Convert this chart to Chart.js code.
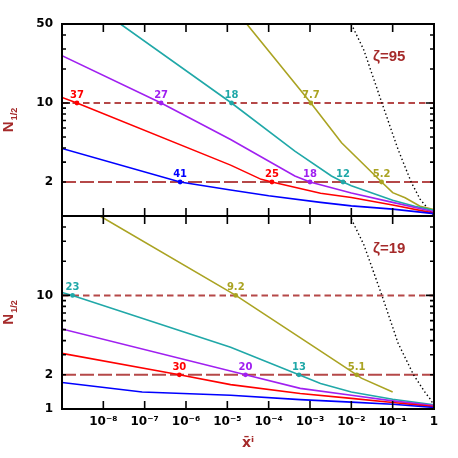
<!DOCTYPE html>
<html>
<head>
<meta charset="utf-8">
<script src="https://cdn.jsdelivr.net/npm/chart.js@4"></script>
<style>
  html, body { margin: 0; padding: 0; background: #fff; }
  #wrap { position: relative; width: 458px; height: 458px; }
  #wrap canvas { position: absolute; left: 0; top: 0; }
</style>
</head>
<body>
<div id="wrap">
  <canvas id="topPanel" width="458" height="458"></canvas>
  <canvas id="botPanel" width="458" height="458"></canvas>
</div>
<script>
// ── axes ──
const xMin = 1e-9, xMax = 1;
const yMin = 1, yMax = 50;
const xTickVals = [1e-8, 1e-7, 1e-6, 1e-5, 1e-4, 1e-3, 1e-2, 1e-1, 1];
const xTickLabels = ['10⁻⁸', '10⁻⁷', '10⁻⁶', '10⁻⁵', '10⁻⁴', '10⁻³', '10⁻²', '10⁻¹', '1'];
const xTickMarks = [1e-8, 1e-7, 1e-6, 1e-5, 1e-4, 1e-3, 1e-2, 1e-1];
const yTopTicks = [2, 10, 50];
const yBotTicks = [1, 2, 10];
const yMinorTicks = [2, 3, 4, 5, 6, 7, 8, 9, 20, 30, 40];
const yMajorTicks = [10];
const levelY = [10, 2];

// ── top panel, zeta = 95 ──
const topBlueX = [1e-9, 7.2e-7, 1.2e-5, 1e-4, 1.8e-3, 1e-2, 1e-1, 1];
const topBlueY = [3.96, 2.0, 1.70, 1.51, 1.32, 1.23, 1.15, 1.05];
const topRedX = [1e-9, 2.3e-9, 1.2e-5, 6.6e-5, 1.2e-4, 1.8e-3, 1e-2, 1e-1, 1];
const topRedY = [11.2, 10, 2.82, 2.11, 2.0, 1.59, 1.46, 1.25, 1.06];
const topPurpleX = [1e-9, 2.5e-7, 1.2e-5, 4.3e-4, 1e-3, 1e-2, 1e-1, 1];
const topPurpleY = [26.2, 10, 4.75, 2.26, 2.0, 1.60, 1.32, 1.09];
const topCyanX = [2.6e-8, 1.26e-5, 4.3e-4, 3.3e-3, 6.3e-3, 1e-2, 1e-1, 0.34, 1];
const topCyanY = [50, 10, 3.75, 2.26, 2.0, 1.85, 1.38, 1.22, 1.12];
const topOliveX = [2.95e-5, 1.05e-3, 5.8e-3, 5.4e-2, 1e-1, 0.2, 0.46, 1];
const topOliveY = [50, 10, 4.45, 2.0, 1.61, 1.45, 1.22, 1.14];
const topDotX = [1e-2, 2e-2, 5.5e-2, 0.135, 0.28, 0.46, 1];
const topDotY = [50, 29.5, 10, 3.88, 2.0, 1.41, 1.0];

const topRedMarkX = [2.3e-9, 1.2e-4], topRedMarkY = [10, 2], topRedMarkText = ['37', '25'];
const topBlueMarkX = [7.2e-7], topBlueMarkY = [2], topBlueMarkText = ['41'];
const topPurpleMarkX = [2.5e-7, 1e-3], topPurpleMarkY = [10, 2], topPurpleMarkText = ['27', '18'];
const topCyanMarkX = [1.26e-5, 6.3e-3], topCyanMarkY = [10, 2], topCyanMarkText = ['18', '12'];
const topOliveMarkX = [1.05e-3, 5.4e-2], topOliveMarkY = [10, 2], topOliveMarkText = ['7.7', '5.2'];

// ── bottom panel, zeta = 19 ──
const botBlueX = [1e-9, 8.7e-8, 1.2e-5, 5.8e-4, 1e-2, 1e-1, 1];
const botBlueY = [1.71, 1.41, 1.32, 1.21, 1.15, 1.10, 1.03];
const botRedX = [1e-9, 6.9e-7, 1.2e-5, 5.8e-4, 1e-2, 1e-1, 1];
const botRedY = [3.09, 2.0, 1.64, 1.37, 1.24, 1.14, 1.05];
const botPurpleX = [1e-9, 2.75e-5, 5.8e-4, 1e-2, 1e-1, 1];
const botPurpleY = [5.07, 2.0, 1.52, 1.32, 1.18, 1.07];
const botCyanX = [1e-9, 1.8e-9, 1.2e-5, 5.4e-4, 1.8e-3, 1e-2, 1e-1, 1];
const botCyanY = [10.6, 10, 3.49, 2.0, 1.68, 1.41, 1.22, 1.09];
const botOliveX = [8.3e-9, 1.6e-5, 1e-3, 1.35e-2, 1.75e-2, 1e-1];
const botOliveY = [50, 10, 3.72, 2.0, 1.87, 1.41];
const botDotX = [1e-2, 2e-2, 5.5e-2, 0.135, 0.32, 0.6, 0.86, 1];
const botDotY = [47, 28, 10, 3.8, 2.0, 1.41, 1.19, 1.05];

const botCyanMarkX = [1.8e-9, 5.4e-4], botCyanMarkY = [10, 2], botCyanMarkText = ['23', '13'];
const botRedMarkX = [6.9e-7], botRedMarkY = [2], botRedMarkText = ['30'];
const botPurpleMarkX = [2.75e-5], botPurpleMarkY = [2], botPurpleMarkText = ['20'];
const botOliveMarkX = [1.6e-5, 1.35e-2], botOliveMarkY = [10, 2], botOliveMarkText = ['9.2', '5.1'];

// ── styles ──
const BLUE = '#0000ff', RED = '#ff0000', PURPLE = '#a020f0', CYAN = '#20a8a8', OLIVE = '#aaa322';
const LEVEL_COLOR = '#b54848';
const TITLE_COLOR = '#a52a2a';

const pts = (xs, ys) => xs.map((x, i) => ({ x, y: ys[i] }));

function curve(xs, ys, color, dash) {
  return {
    type: 'line', data: pts(xs, ys), borderColor: color, borderWidth: dash ? 1.4 : 1.6,
    borderDash: dash || [], pointRadius: 0, tension: 0, fill: false
  };
}

function marks(xs, ys, texts, color) {
  return {
    type: 'scatter', data: pts(xs, ys), backgroundColor: color, borderColor: color,
    pointRadius: 2.4, borderWidth: 0, markText: texts
  };
}

function level(v, dash) {
  return {
    type: 'line', data: [{ x: xMin, y: v }, { x: xMax, y: v }], borderColor: LEVEL_COLOR,
    borderWidth: 2, borderDash: dash, pointRadius: 0, fill: false
  };
}

const panelDecor = {
  id: 'panelDecor',
  afterDatasetsDraw(chart, args, opts) {
    const { ctx, chartArea: a } = chart;
    const xs = chart.scales.x, ys = chart.scales.y;
    ctx.save();

    // labels above the markers
    ctx.font = 'bold 10px "DejaVu Sans"';
    ctx.textAlign = 'center';
    ctx.textBaseline = 'alphabetic';
    chart.data.datasets.forEach((ds, i) => {
      if (!ds.markText) return;
      ctx.fillStyle = ds.borderColor;
      chart.getDatasetMeta(i).data.forEach((pt, j) => {
        ctx.fillText(ds.markText[j], pt.x, pt.y - 5);
      });
    });

    // inward tick marks
    ctx.strokeStyle = '#000';
    ctx.lineWidth = 1.6;
    ctx.beginPath();
    xTickMarks.forEach(v => {
      const px = xs.getPixelForValue(v);
      ctx.moveTo(px, a.top); ctx.lineTo(px, a.top + 8);
      ctx.moveTo(px, a.bottom); ctx.lineTo(px, a.bottom - 8);
    });
    yMinorTicks.forEach(v => {
      const py = ys.getPixelForValue(v);
      ctx.moveTo(a.left, py); ctx.lineTo(a.left + 4, py);
      ctx.moveTo(a.right, py); ctx.lineTo(a.right - 4, py);
    });
    yMajorTicks.forEach(v => {
      const py = ys.getPixelForValue(v);
      ctx.moveTo(a.left, py); ctx.lineTo(a.left + 8, py);
      ctx.moveTo(a.right, py); ctx.lineTo(a.right - 8, py);
    });
    ctx.stroke();

    // frame
    ctx.lineWidth = 2;
    ctx.strokeRect(a.left, a.top, a.right - a.left, a.bottom - a.top);

    // zeta label
    ctx.fillStyle = TITLE_COLOR;
    ctx.font = 'bold 15px "Liberation Sans"';
    ctx.textAlign = 'left';
    ctx.textBaseline = 'middle';
    ctx.fillText(opts.zeta, a.right - 61, a.top + 33);

    // y title N_{1/2}
    ctx.save();
    ctx.translate(a.left - 54, (a.top + a.bottom) / 2);
    ctx.rotate(-Math.PI / 2);
    ctx.textBaseline = 'alphabetic';
    ctx.textAlign = 'left';
    ctx.font = 'bold 15px "Liberation Sans"';
    const wN = ctx.measureText('N').width;
    ctx.font = 'bold 9px "Liberation Sans"';
    const wS = ctx.measureText('1/2').width;
    const u0 = -(wN + wS + 1) / 2;
    ctx.font = 'bold 15px "Liberation Sans"';
    ctx.fillText('N', u0, 5);
    ctx.font = 'bold 9px "Liberation Sans"';
    ctx.fillText('1/2', u0 + wN + 1, 9);
    ctx.restore();

    // x title
    if (opts.xTitle) {
      ctx.font = 'bold 14px "DejaVu Sans"';
      ctx.textAlign = 'center';
      ctx.textBaseline = 'middle';
      ctx.fillText(opts.xTitle, (a.left + a.right) / 2, a.bottom + 34);
    }
    ctx.restore();
  }
};

function panelOptions(yTicks, showX, padding, zeta, xTitle) {
  return {
    responsive: false,
    animation: false,
    events: [],
    layout: { padding },
    plugins: {
      legend: { display: false },
      tooltip: { enabled: false },
      panelDecor: { zeta, xTitle }
    },
    scales: {
      x: {
        type: 'logarithmic', min: xMin, max: xMax, bounds: 'data',
        display: showX,
        grid: { display: false, drawTicks: false },
        border: { display: false },
        afterBuildTicks: s => { s.ticks = xTickVals.map(v => ({ value: v })); },
        afterFit: s => { s.height = showX ? 40 : 0; },
        ticks: {
          autoSkip: false, maxRotation: 0, padding: 6, color: '#000',
          font: { family: 'DejaVu Sans', weight: 'bold', size: 12 },
          callback: (v, i) => xTickLabels[i]
        }
      },
      y: {
        type: 'logarithmic', min: yMin, max: yMax, bounds: 'data',
        grid: { display: false, drawTicks: false },
        border: { display: false },
        afterBuildTicks: s => { s.ticks = yTicks.map(v => ({ value: v })); },
        afterFit: s => { s.width = 62; },
        ticks: {
          autoSkip: false, padding: 9, color: '#000',
          font: { family: 'DejaVu Sans', weight: 'bold', size: 12 },
          callback: v => String(v)
        }
      }
    }
  };
}

new Chart(document.getElementById('topPanel'), {
  type: 'line',
  data: {
    datasets: [
      marks(topRedMarkX, topRedMarkY, topRedMarkText, RED),
      marks(topBlueMarkX, topBlueMarkY, topBlueMarkText, BLUE),
      marks(topPurpleMarkX, topPurpleMarkY, topPurpleMarkText, PURPLE),
      marks(topCyanMarkX, topCyanMarkY, topCyanMarkText, CYAN),
      marks(topOliveMarkX, topOliveMarkY, topOliveMarkText, OLIVE),
      curve(topBlueX, topBlueY, BLUE),
      curve(topRedX, topRedY, RED),
      curve(topPurpleX, topPurpleY, PURPLE),
      curve(topCyanX, topCyanY, CYAN),
      curve(topOliveX, topOliveY, OLIVE),
      curve(topDotX, topDotY, '#000', [1.4, 2.6]),
      level(levelY[0], [6.5, 4]),
      level(levelY[1], [14, 4])
    ]
  },
  options: panelOptions(yTopTicks, false, { top: 24, right: 24, left: 0, bottom: 242 }, 'ζ=95', ''),
  plugins: [panelDecor]
});

new Chart(document.getElementById('botPanel'), {
  type: 'line',
  data: {
    datasets: [
      marks(botCyanMarkX, botCyanMarkY, botCyanMarkText, CYAN),
      marks(botRedMarkX, botRedMarkY, botRedMarkText, RED),
      marks(botPurpleMarkX, botPurpleMarkY, botPurpleMarkText, PURPLE),
      marks(botOliveMarkX, botOliveMarkY, botOliveMarkText, OLIVE),
      curve(botBlueX, botBlueY, BLUE),
      curve(botRedX, botRedY, RED),
      curve(botPurpleX, botPurpleY, PURPLE),
      curve(botCyanX, botCyanY, CYAN),
      curve(botOliveX, botOliveY, OLIVE),
      curve(botDotX, botDotY, '#000', [1.4, 2.6]),
      level(levelY[0], [6.5, 4]),
      level(levelY[1], [14, 4])
    ]
  },
  options: panelOptions(yBotTicks, true, { top: 216, right: 24, left: 0, bottom: 9 }, 'ζ=19', 'x̄ⁱ'),
  plugins: [panelDecor]
});
</script>
</body>
</html>
